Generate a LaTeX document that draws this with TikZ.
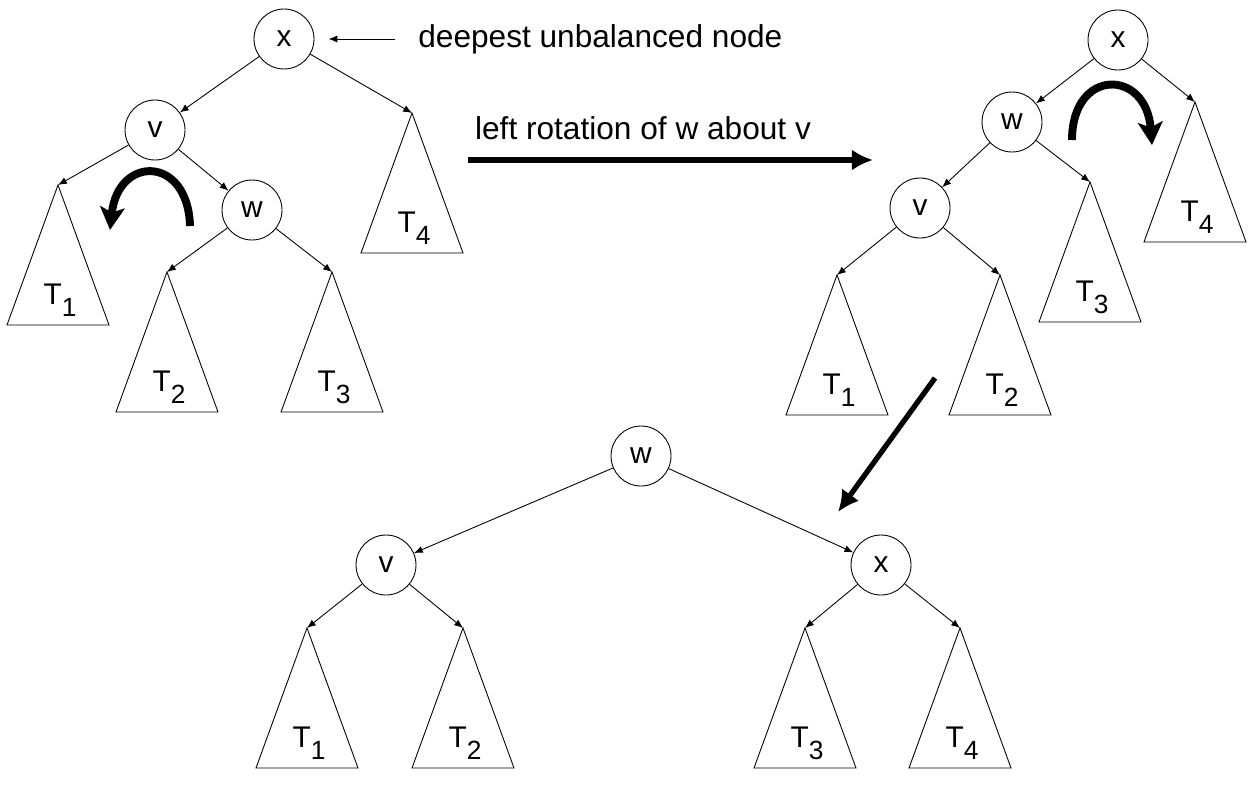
\documentclass[tikz,border=0pt]{standalone}
\usepackage{fontspec}
\setmainfont{Liberation Sans}
\usetikzlibrary{arrows.meta,calc}
\tikzset{
  key/.style={draw, circle, minimum size=1.2cm, inner sep=0pt, line width=0.5pt, font=\fontsize{17}{17}\selectfont},
  edge/.style={-{Latex[length=5pt,width=4pt]}, line width=0.5pt},
  rot/.style={-{Stealth[length=13pt,width=14pt,inset=3pt]}, line width=4.5pt},
  big/.style={-{Latex[length=12pt,width=12pt]}, line width=3pt},
  tlabel/.style={font=\fontsize{17}{17}\selectfont, inner sep=0pt}
}
\newcommand{\subtree}[3]{%
  \coordinate (#1) at #2;
  \draw[line width=0.5pt] (#1) -- ++(-51,140) -- ++(102,0) -- cycle;
  \node[tlabel] (#1l) at ($(#1)+(2,115)$) {T\raisebox{-0.4em}{\fontsize{15}{15}\selectfont #3}};
}
\begin{document}
\begin{tikzpicture}[x=0.02cm, y=-0.02cm]
\useasboundingbox (0,0) rectangle (1256,788);
% before the rotation
\node[key] (x1) at (284,39) {x};
\node[key] (v1) at (155,130) {v};
\node[key] (w1) at (252,210) {w};
\subtree{a1}{(58,185)}{1}
\subtree{a2}{(167,272)}{2}
\subtree{a3}{(332,272)}{3}
\subtree{a4}{(412,113)}{4}
\draw[edge] (x1) -- (v1);
\draw[edge] (x1) -- (a4);
\draw[edge] (v1) -- (a1);
\draw[edge] (v1) -- (w1);
\draw[edge] (w1) -- (a2);
\draw[edge] (w1) -- (a3);
\coordinate (c1s) at (190,226);
\coordinate (c1e) at (110,230);
\draw[rot] (c1s) .. controls (188,155) and (118,155) .. (c1e);
\node[anchor=west, inner sep=0pt, font=\fontsize{18}{18}\selectfont] (note) at (418,39) {deepest unbalanced node};
\draw[edge, shorten <=13pt, shorten >=8pt] (note.west) -- (x1.east);
% first step
\coordinate (r1) at (468,160);
\coordinate (r2) at (873,160);
\draw[big] (r1) -- (r2);
\node[font=\fontsize{18}{18}\selectfont, inner sep=0pt] (rlab) at (643,128) {left rotation of w about v};
% after the left rotation
\node[key] (x2) at (1118,40) {x};
\node[key] (w2) at (1012,122) {w};
\node[key] (v2) at (920,208) {v};
\subtree{b1}{(837,275)}{1}
\subtree{b2}{(1000,275)}{2}
\subtree{b3}{(1090,182)}{3}
\subtree{b4}{(1195,102)}{4}
\draw[edge] (x2) -- (w2);
\draw[edge] (x2) -- (b4);
\draw[edge] (w2) -- (v2);
\draw[edge] (w2) -- (b3);
\draw[edge] (v2) -- (b1);
\draw[edge] (v2) -- (b2);
\coordinate (c2s) at (1072,140);
\coordinate (c2e) at (1152,145);
\draw[rot] (c2s) .. controls (1072,68) and (1146,68) .. (c2e);
% second step
\coordinate (d1) at (935,378);
\coordinate (d2) at (838,512);
\draw[big] (d1) -- (d2);
% balanced
\node[key] (w3) at (641,456) {w};
\node[key] (v3) at (386,565) {v};
\node[key] (x3) at (881,565) {x};
\subtree{c1}{(307,628)}{1}
\subtree{c2}{(463,628)}{2}
\subtree{c3}{(805,628)}{3}
\subtree{c4}{(960,628)}{4}
\draw[edge] (w3) -- (v3);
\draw[edge] (w3) -- (x3);
\draw[edge] (v3) -- (c1);
\draw[edge] (v3) -- (c2);
\draw[edge] (x3) -- (c3);
\draw[edge] (x3) -- (c4);
\end{tikzpicture}
\end{document}
